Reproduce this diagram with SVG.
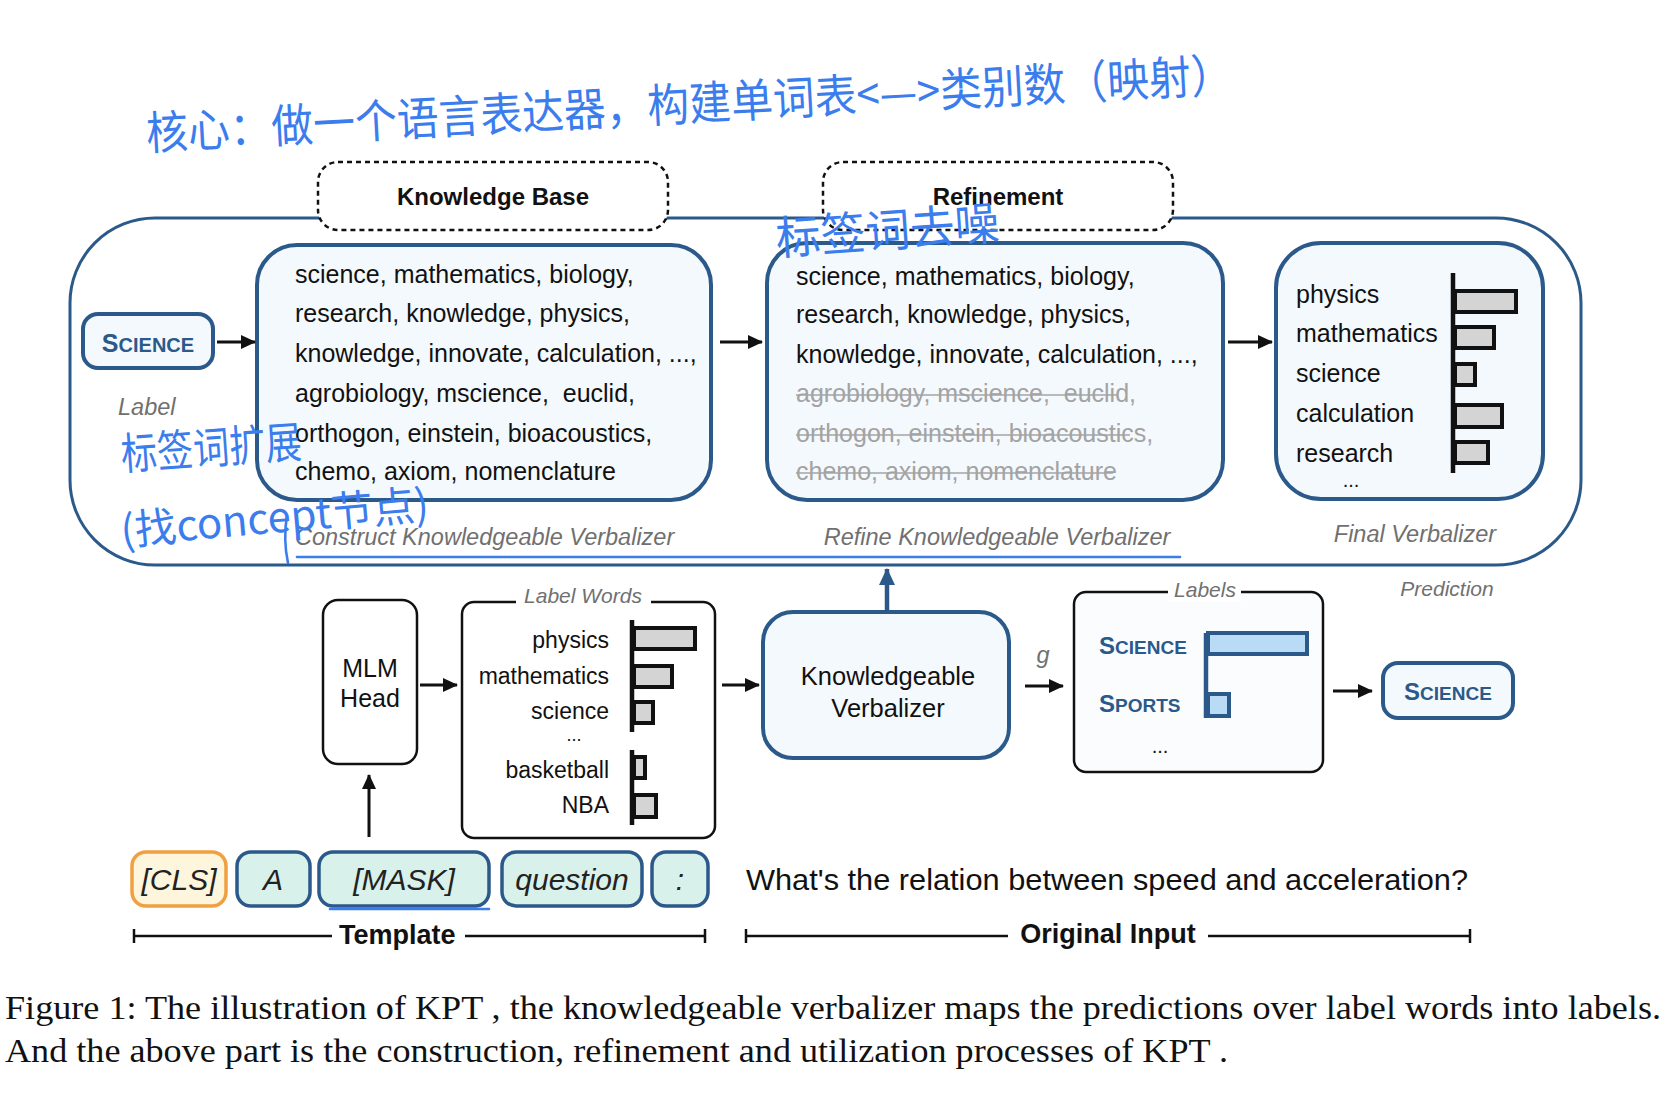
<svg xmlns="http://www.w3.org/2000/svg" width="1668" height="1102" viewBox="0 0 1668 1102">
<defs>
<style>
.sans{font-family:"Liberation Sans",Arial,sans-serif;}
.txt{font-family:"Liberation Sans",Arial,sans-serif;fill:#111;}
.cap{font-family:"Liberation Sans",Arial,sans-serif;font-style:italic;fill:#707070;font-size:23.5px;}
.blueBox{fill:#f4f9fd;stroke:#2b5a8a;stroke-width:4;}
.blackBox{fill:#fff;stroke:#111;stroke-width:2.5;}
.dash{fill:#fff;stroke:#111;stroke-width:2.5;stroke-dasharray:5 4;}
.tok{fill:#d9f1eb;stroke:#2b5a8a;stroke-width:3.5;}
.tokT{font-family:"Liberation Sans",Arial,sans-serif;font-style:italic;font-size:30px;fill:#222;text-anchor:middle;}
.sc{font-family:"Liberation Sans",Arial,sans-serif;font-weight:bold;fill:#2b5a8a;}
.bar{fill:#d4d4d4;stroke:#111;stroke-width:4;}
.bbar{fill:#b9dbf5;stroke:#2b5a8a;stroke-width:4;}
.axis{stroke:#111;stroke-width:4.5;fill:none;}
.baxis{stroke:#2b5a8a;stroke-width:4.5;fill:none;}
.arr{stroke:#111;stroke-width:3;fill:none;marker-end:url(#ah);}
.gone{fill:#a3a3a3;}
.strike{stroke:#a3a3a3;stroke-width:1.6;}
.hand{font-family:"Noto Sans CJK SC","Noto Sans CJK TC",sans-serif;fill:#3b7ded;}
.handL{stroke:#3b7ded;stroke-width:2.6;fill:none;stroke-linecap:round;}
.line{stroke:#111;stroke-width:2.5;}
</style>
<marker id="ah" markerUnits="userSpaceOnUse" markerWidth="16" markerHeight="14" refX="14" refY="7" orient="auto">
<path d="M0,0 L15,7 L0,14 Z" fill="#111"/>
</marker>
<marker id="ahb" markerUnits="userSpaceOnUse" markerWidth="18" markerHeight="16" refX="16" refY="8" orient="auto">
<path d="M0,0 L17,8 L0,16 Z" fill="#2b5a8a"/>
</marker>
</defs>
<rect width="1668" height="1102" fill="#fff"/>

<!-- outer frame -->
<g id="outer">
<rect x="70" y="218" width="1511" height="347" rx="85" fill="#fff" stroke="#2b5a8a" stroke-width="3"/>
</g>

<g id="knowledge-base">
<rect class="dash" x="318" y="162" width="350" height="68" rx="20"/>
<text class="txt" x="493" y="205" font-size="24" font-weight="bold" text-anchor="middle">Knowledge Base</text>
</g>
<g id="refinement">
<rect class="dash" x="823" y="162" width="350" height="68" rx="20"/>
<text class="txt" x="998" y="205" font-size="24" font-weight="bold" text-anchor="middle">Refinement</text>
</g>

<g id="label-science">
<rect class="blueBox" x="83" y="314" width="130" height="54" rx="15"/>
<text class="sc" x="148" y="352" text-anchor="middle"><tspan font-size="25">S</tspan><tspan font-size="20">CIENCE</tspan></text>
<text class="cap" x="118" y="415">Label</text>
</g>

<g id="construct-kv">
<rect class="blueBox" x="257" y="245" width="454" height="255" rx="40"/>
<g class="txt" font-size="25">
<text x="295" y="283">science, mathematics, biology,</text>
<text x="295" y="322">research, knowledge, physics,</text>
<text x="295" y="362">knowledge, innovate, calculation, ...,</text>
<text x="295" y="402" xml:space="preserve">agrobiology, mscience,  euclid,</text>
<text x="295" y="442">orthogon, einstein, bioacoustics,</text>
<text x="295" y="480">chemo, axiom, nomenclature</text>
</g>
<text class="cap" x="295" y="545">Construct Knowledgeable Verbalizer</text>
</g>

<g id="refine-kv">
<rect class="blueBox" x="767" y="243" width="456" height="257" rx="40"/>
<g class="txt" font-size="25">
<text x="796" y="285">science, mathematics, biology,</text>
<text x="796" y="323">research, knowledge, physics,</text>
<text x="796" y="363">knowledge, innovate, calculation, ...,</text>
<text class="gone" x="796" y="402" xml:space="preserve">agrobiology, mscience,  euclid,</text>
<text class="gone" x="796" y="442">orthogon, einstein, bioacoustics,</text>
<text class="gone" x="796" y="480">chemo, axiom, nomenclature</text>
</g>
<line class="strike" x1="796" y1="395" x2="1117" y2="395"/>
<line class="strike" x1="796" y1="435" x2="1130" y2="435"/>
<line class="strike" x1="796" y1="473" x2="1113" y2="473"/>
<text class="cap" x="997" y="545" text-anchor="middle">Refine Knowledgeable Verbalizer</text>
</g>

<g id="final-verbalizer">
<rect class="blueBox" x="1276" y="243" width="267" height="256" rx="45"/>
<g class="txt" font-size="25">
<text x="1296" y="303">physics</text>
<text x="1296" y="342">mathematics</text>
<text x="1296" y="382">science</text>
<text x="1296" y="422">calculation</text>
<text x="1296" y="462">research</text>
</g>
<text class="txt" x="1351" y="487" font-size="20" text-anchor="middle">...</text>
<rect class="bar" x="1455" y="291" width="61" height="21"/>
<rect class="bar" x="1455" y="327" width="39" height="21"/>
<rect class="bar" x="1455" y="364" width="20" height="21"/>
<rect class="bar" x="1455" y="405" width="47" height="22"/>
<rect class="bar" x="1455" y="442" width="33" height="21"/>
<line class="axis" x1="1453" y1="273" x2="1453" y2="473"/>
<text class="cap" x="1415" y="542" text-anchor="middle">Final Verbalizer</text>
</g>

<g id="mlm-head">
<rect class="blackBox" x="323" y="600" width="94" height="164" rx="15"/>
<text class="txt" x="370" y="677" font-size="25" text-anchor="middle">MLM</text>
<text class="txt" x="370" y="707" font-size="25" text-anchor="middle">Head</text>
</g>

<g id="label-words">
<rect class="blackBox" x="462" y="602" width="253" height="236" rx="12"/>
<rect x="516" y="590" width="135" height="20" fill="#fff"/>
<text class="cap" x="583" y="603" text-anchor="middle" style="font-size:21px">Label Words</text>
<g class="txt" font-size="23" text-anchor="end">
<text x="609" y="648">physics</text>
<text x="609" y="684">mathematics</text>
<text x="609" y="719">science</text>
<text x="609" y="778">basketball</text>
<text x="609" y="813">NBA</text>
</g>
<text class="txt" x="574" y="741" font-size="18" text-anchor="middle">...</text>
<rect class="bar" x="634" y="628" width="61" height="21"/>
<rect class="bar" x="634" y="666" width="38" height="21"/>
<rect class="bar" x="634" y="702" width="19" height="21"/>
<rect class="bar" x="634" y="757" width="11" height="21"/>
<rect class="bar" x="634" y="795" width="22" height="22"/>
<line class="axis" x1="632" y1="620" x2="632" y2="732"/>
<line class="axis" x1="632" y1="750" x2="632" y2="825"/>
</g>

<g id="knowledgeable-verbalizer">
<rect class="blueBox" x="763" y="612" width="246" height="146" rx="30"/>
<text class="txt" x="888" y="685" font-size="25.5" text-anchor="middle">Knowledgeable</text>
<text class="txt" x="888" y="717" font-size="25.5" text-anchor="middle">Verbalizer</text>
</g>

<g id="labels">
<rect class="blackBox" x="1074" y="592" width="249" height="180" rx="12" style="fill:#fbfcfe"/>
<rect x="1168" y="582" width="73" height="20" fill="#fff"/>
<text class="cap" x="1205" y="597" text-anchor="middle" style="font-size:21px">Labels</text>
<text class="sc" x="1099" y="654"><tspan font-size="24">S</tspan><tspan font-size="19">CIENCE</tspan></text>
<text class="sc" x="1099" y="712"><tspan font-size="24">S</tspan><tspan font-size="19">PORTS</tspan></text>
<text class="txt" x="1160" y="753" font-size="20" text-anchor="middle">...</text>
<rect class="bbar" x="1208" y="633" width="99" height="21"/>
<rect class="bbar" x="1208" y="694" width="21" height="22"/>
<line class="baxis" x1="1206" y1="633" x2="1206" y2="718"/>
</g>

<g id="prediction">
<text class="cap" x="1447" y="596" text-anchor="middle" style="font-size:21px">Prediction</text>
<rect class="blueBox" x="1383" y="663" width="130" height="55" rx="15"/>
<text class="sc" x="1448" y="700" text-anchor="middle"><tspan font-size="24">S</tspan><tspan font-size="19">CIENCE</tspan></text>
</g>

<g id="tokens">
<rect x="132" y="852" width="94" height="54" rx="14" fill="#fdf6dc" stroke="#f0a040" stroke-width="3.5"/>
<text class="tokT" x="179" y="890">[CLS]</text>
<rect class="tok" x="237" y="852" width="73" height="54" rx="14"/>
<text class="tokT" x="273" y="890">A</text>
<rect class="tok" x="319" y="852" width="170" height="54" rx="14"/>
<text class="tokT" x="404" y="890">[MASK]</text>
<rect class="tok" x="502" y="852" width="140" height="54" rx="14"/>
<text class="tokT" x="572" y="890">question</text>
<rect class="tok" x="652" y="852" width="56" height="54" rx="14"/>
<text class="tokT" x="680" y="890">:</text>
</g>

<g id="original-input">
<text class="txt" x="746" y="890" font-size="30" textLength="722" lengthAdjust="spacingAndGlyphs">What's the relation between speed and acceleration?</text>
</g>

<g id="brackets">
<line class="line" x1="134" y1="936" x2="332" y2="936"/>
<line class="line" x1="134" y1="929" x2="134" y2="943"/>
<text class="txt" x="339" y="944" font-size="27" font-weight="bold">Template</text>
<line class="line" x1="465" y1="936" x2="705" y2="936"/>
<line class="line" x1="705" y1="929" x2="705" y2="943"/>
<line class="line" x1="746" y1="936" x2="1008" y2="936"/>
<line class="line" x1="746" y1="929" x2="746" y2="943"/>
<text class="txt" x="1108" y="943" font-size="27" font-weight="bold" text-anchor="middle">Original Input</text>
<line class="line" x1="1208" y1="936" x2="1470" y2="936"/>
<line class="line" x1="1470" y1="929" x2="1470" y2="943"/>
</g>

<g id="connectors">
<line class="arr" x1="217" y1="342" x2="255" y2="342"/>
<line class="arr" x1="720" y1="342" x2="762" y2="342"/>
<line class="arr" x1="1228" y1="342" x2="1272" y2="342"/>
<line class="arr" x1="420" y1="685" x2="457" y2="685"/>
<line class="arr" x1="722" y1="685" x2="759" y2="685"/>
<line class="arr" x1="1025" y1="686" x2="1063" y2="686"/>
<line class="arr" x1="1333" y1="691" x2="1372" y2="691"/>
<line class="arr" x1="369" y1="837" x2="369" y2="775"/>
<line x1="887" y1="612" x2="887" y2="569" stroke="#2b5a8a" stroke-width="4.5" marker-end="url(#ahb)"/>
<text class="cap" x="1043" y="663" text-anchor="middle">g</text>
</g>

<g id="caption">
<text x="5" y="1019" font-family="'Liberation Serif','Times New Roman',serif" font-size="34" fill="#111" textLength="1656" lengthAdjust="spacingAndGlyphs">Figure 1: The illustration of KPT , the knowledgeable verbalizer maps the predictions over label words into labels.</text>
<text x="5" y="1062" font-family="'Liberation Serif','Times New Roman',serif" font-size="34" fill="#111" textLength="1223" lengthAdjust="spacingAndGlyphs">And the above part is the construction, refinement and utilization processes of KPT .</text>
</g>

<g id="handwriting">
<text class="hand" x="147" y="150" font-size="46" textLength="1088" lengthAdjust="spacingAndGlyphs" transform="rotate(-3.1 147 150)">核心：做一个语言表达器，构建单词表&lt;—&gt;类别数（映射）</text>
<text class="hand" x="777" y="255" font-size="46" textLength="224" lengthAdjust="spacingAndGlyphs" transform="rotate(-4 777 255)">标签词去噪</text>
<text class="hand" x="122" y="470" font-size="44" textLength="181" lengthAdjust="spacingAndGlyphs" transform="rotate(-4 122 470)">标签词扩展</text>
<text class="hand" x="122" y="546" font-size="42" textLength="309" lengthAdjust="spacingAndGlyphs" transform="rotate(-5 122 546)">(找concept节点)</text>
<path class="handL" d="M287,515 Q283,540 288,563"/>
<path class="handL" d="M297,557 L1180,557"/>
<path class="handL" d="M330,909 L489,909"/>
</g>
</svg>
